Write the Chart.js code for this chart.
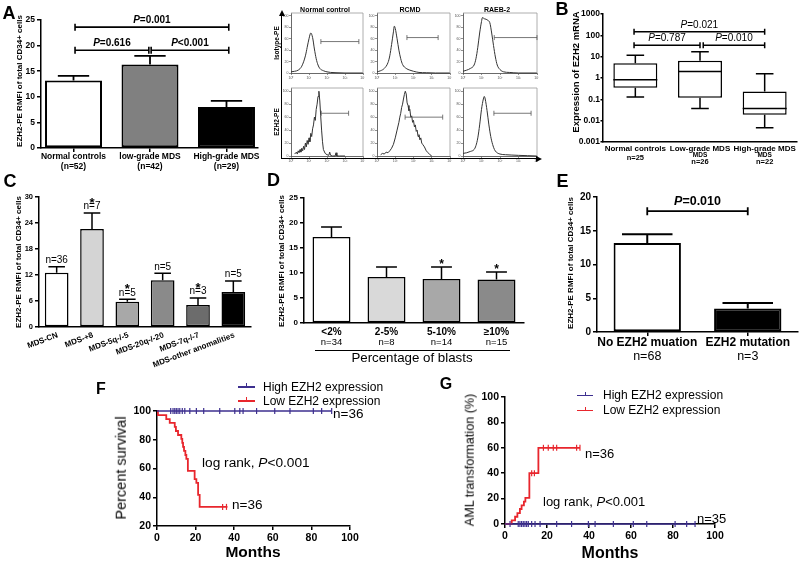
<!DOCTYPE html>
<html>
<head>
<meta charset="utf-8">
<title>EZH2 expression figure</title>
<script src="https://cdn.jsdelivr.net/npm/chart.js@4.4.1/dist/chart.umd.min.js"></script>
<style>
html,body{margin:0;padding:0;background:#fff;}
#root{position:relative;width:800px;height:564px;overflow:hidden;background:#fff;}
#root canvas{position:absolute;}
#root .t{position:absolute;white-space:nowrap;color:#000;}
#root .ln{position:absolute;background:#000;}
#root .tri{position:absolute;width:0;height:0;}
</style>
</head>
<body>
<div id="root"></div>
<script>
// ================= DATA =================
// Panel A (bar chart)
const aCategories = ["Normal controls", "low-grade MDS", "High-grade MDS"];
const aSubLabels = ["(n=52)", "(n=42)", "(n=29)"];
const aMeans = [13.2, 16.3, 8.0];
const aErrTops = [14.1, 18.0, 9.2];
const aColors = ["#ffffff", "#808080", "#000000"];
const aTicks = [0, 5, 10, 15, 20, 25];
const aBracketFrom = [0.02, 0.02, 1.015];
const aBracketTo = [2.03, 0.985, 2.03];
const aBracketY = [23.6, 19.1, 19.1];
const aBracketText = ["=0.001", "=0.616", "<0.001"];

// Panel A (flow cytometry histograms)
const flowColumns = ["Normal control", "RCMD", "RAEB-2"];
const flowRows = ["Isotype-PE", "EZH2-PE"];
const flowXTicks = [0, 1, 2, 3, 4];
const flowXTickLabels = ["10⁰", "10¹", "10²", "10³", "10⁴"];
const flowYTicks = [0, 20, 40, 60, 80, 100];
const isoNormalX = [0,0.2,0.4,0.6,0.8,0.9,1.0,1.1,1.2,1.3,1.4,1.5,1.6,1.8,2.0,2.2,2.5,3.0,3.5,4.0];
const isoNormalY = [2,3,5,12,30,45,60,70,62,42,25,14,8,4,2,1,0.5,0,0,0];
const isoRcmdX = [0,0.2,0.4,0.6,0.7,0.8,0.9,0.95,1.0,1.1,1.2,1.3,1.4,1.6,1.8,2.0,2.3,2.7,3.2,4.0];
const isoRcmdY = [2,4,8,18,30,50,72,82,78,60,40,25,15,8,5,3,1,0.5,0,0];
const isoRaebX = [0,0.2,0.4,0.6,0.7,0.8,0.9,1.0,1.05,1.15,1.25,1.35,1.45,1.55,1.65,1.75,1.85,2.0,2.2,2.5,3.0,4.0];
const isoRaebY = [3,5,8,14,25,45,70,90,97,95,94,92,88,70,48,28,14,6,2,1,0,0];
const ezhNormalX = [0.2,0.3,0.35,0.4,0.45,0.5,0.55,0.6,0.65,0.7,0.75,0.8,0.85,0.9,0.95,1.0,1.05,1.1,1.15,1.2,1.25,1.3,1.35,1.4,1.45,1.5,1.55,1.6,1.65,1.7,1.75,1.8,1.9,2.0,2.1,2.15,2.2,2.3,2.45,2.5,2.55,2.7,3.0];
const ezhNormalY = [3,6,3,8,5,10,6,12,8,15,10,20,14,24,18,28,22,35,30,42,48,60,55,72,80,92,100,85,62,40,22,10,4,2,1,6,1,0,0,5,0,0,0];
const ezhRcmdX = [0.2,0.3,0.4,0.5,0.6,0.7,0.8,0.9,1.0,1.1,1.2,1.25,1.3,1.35,1.4,1.45,1.5,1.55,1.6,1.65,1.7,1.75,1.8,1.85,1.9,1.95,2.0,2.05,2.1,2.15,2.2,2.25,2.3,2.35,2.4,2.45,2.5,2.6,2.7,2.8,2.9,3.0];
const ezhRcmdY = [2,4,3,6,5,8,12,18,28,40,52,60,66,75,80,88,95,100,96,82,78,70,72,60,62,52,55,45,48,38,40,30,33,25,28,20,18,14,8,5,2,0];
const ezhRaebX = [0,0.2,0.4,0.6,0.7,0.8,0.9,1.0,1.1,1.15,1.2,1.3,1.4,1.5,1.6,1.7,1.8,2.0,2.3,2.6,3.0,3.5,4.0];
const ezhRaebY = [4,5,7,10,16,28,48,72,88,92,88,70,48,30,18,10,6,3,2,1.5,1,0.5,0];
const flowGateStart = [1.66, 1.64, 1.69, 1.68, 1.54, 1.67];
const flowGateEnd = [3.77, 3.35, 4.0, 3.2, 3.6, 3.68];
const flowGateLevel = [55, 62, 62, 66, 60, 66];

// Panel B (box plot, log scale)
const bCategories = ["Normal controls", "Low-grade MDS", "High-grade MDS"];
const bSecondLine = ["", "MDS", "MDS"];
const bNLabels = ["n=25", "n=26", "n=22"];
const bWhiskerLow = [0.128, 0.037, 0.0046];
const bQ1 = [0.35, 0.12, 0.019];
const bMedian = [0.83, 2.0, 0.037];
const bQ3 = [4.9, 6.5, 0.23];
const bWhiskerHigh = [11.8, 17, 1.6];
const bTicks = [0.001, 0.01, 0.1, 1, 10, 100, 1000];
const bBracketFrom = [-0.02, -0.02, 1.05];
const bBracketTo = [2.0, 1.0, 2.0];
const bBracketY = [148, 34.6, 34.6];
const bBracketText = ["=0.021", "=0.787", "=0.010"];

// Panel C
const cCategories = ["MDS-CN", "MDS-+8", "MDS-5q-/-5", "MDS-20q-/-20", "MDS-7q-/-7", "MDS-other anomalities"];
const cMeans = [12.5, 22.6, 5.8, 10.8, 5.1, 8.1];
const cErrTops = [13.9, 26.3, 6.4, 12.4, 6.7, 10.6];
const cNLabels = ["n=36", "n=7", "n=5", "n=5", "n=3", "n=5"];
const cStars = [false, true, true, false, true, false];
const cColors = ["#ffffff", "#d4d4d4", "#a8a8a8", "#8a8a8a", "#6c6c6c", "#000000"];
const cTicks = [0, 6, 12, 18, 24, 30];

// Panel D
const dCategories = ["<2%", "2-5%", "5-10%", "≥10%"];
const dNLabels = ["n=34", "n=8", "n=14", "n=15"];
const dMeans = [17.2, 9.2, 8.8, 8.7];
const dErrTops = [19.2, 11.2, 11.2, 10.2];
const dStars = [false, false, true, true];
const dColors = ["#ffffff", "#d9d9d9", "#a8a8a8", "#8a8a8a"];
const dTicks = [0, 5, 10, 15, 20, 25];

// Panel E
const eCategories = ["No EZH2 muation", "EZH2 mutation"];
const eNLabels = ["n=68", "n=3"];
const eMeans = [13.2, 3.5];
const eErrTops = [14.5, 4.3];
const eColors = ["#ffffff", "#000000"];
const eTicks = [0, 5, 10, 15, 20];
const eBracketY = 17.9;
const eBracketText = "=0.010";

// Panel F (survival)
const fHighMonths = [0, 90.5];
const fHighSurvival = [100, 100];
const fHighCensorMonths = [7.1, 8.3, 9.2, 10, 10.9, 11.8, 13.1, 14.4, 17, 20.4, 24.2, 32.5, 40.3, 42.9, 44.6, 51.6, 61, 68.9, 81, 85.3, 90.5];
const fHighCensorSurvival = [100,100,100,100,100,100,100,100,100,100,100,100,100,100,100,100,100,100,100,100,100];
const fLowMonths = [0, 0.5, 4.8, 6.6, 9.2, 9.8, 10.9, 12.6, 13.1, 13.5, 14, 14.7, 15.2, 16, 19.5, 20.4, 21.3, 22.1, 36.5];
const fLowSurvival = [100, 97.2, 94.4, 91.7, 88.9, 86.1, 83.3, 80.6, 77.8, 75, 72.2, 69.4, 66.7, 58.3, 52.6, 50, 41.7, 33.3, 33.3];
const fLowCensorMonths = [34, 36];
const fLowCensorSurvival = [33.3, 33.3];
const fXTicks = [0, 20, 40, 60, 80, 100];
const fYTicks = [20, 40, 60, 80, 100];

// Panel G (AML transformation)
const gHighMonths = [0, 90.5];
const gHighPercent = [0, 0];
const gHighCensorMonths = [2.4, 6.3, 7.1, 7.9, 8.7, 9.5, 10.3, 11.1, 12.7, 14.3, 16.7, 24.6, 31.7, 39.7, 42.9, 51.6, 61.1, 67.5, 81, 86.5, 90.5];
const gHighCensorPercent = [0,0,0,0,0,0,0,0,0,0,0,0,0,0,0,0,0,0,0,0,0];
const gLowMonths = [0, 3.2, 4.8, 5.9, 7.1, 7.9, 9, 9.7, 11.6, 15.9, 35.7];
const gLowPercent = [0, 2.9, 5.7, 8.6, 11.8, 14.7, 17.6, 20.6, 40, 60, 60];
const gLowCensorMonths = [12.7, 14, 18.3, 20.6, 23, 24.6, 34.1, 35.7];
const gLowCensorPercent = [40, 40, 60, 60, 60, 60, 60, 60];
const gXTicks = [0, 20, 40, 60, 80, 100];
const gYTicks = [0, 20, 40, 60, 80, 100];

// ================= HELPERS =================
const FONT = "'Liberation Sans', Arial, Helvetica, sans-serif";
const BLUE = '#3d2f8f', RED = '#e8262d';
Chart.defaults.font.family = FONT;
Chart.defaults.color = '#000';
let uid = 0;
const root = document.getElementById('root');
const f = (size, weight = 'bold', style = 'normal') => ({ family: FONT, size, weight, style });
const cf = (size, weight = 'bold', style = 'normal') => `${style} ${weight} ${size}px ${FONT}`;

function mkCanvas(l, t, w, h) {
  const c = document.createElement('canvas');
  c.width = w; c.height = h;
  c.style.left = l + 'px'; c.style.top = t + 'px';
  c.style.width = w + 'px'; c.style.height = h + 'px';
  root.appendChild(c);
  return c;
}
function html(x, y, content, size, weight, style, opt) {
  opt = opt || {};
  const d = document.createElement('div');
  d.className = 't';
  d.innerHTML = content;
  d.style.font = `${style || 'normal'} ${weight || 'normal'} ${size}px/1 ${FONT}`;
  d.style.left = x + 'px'; d.style.top = y + 'px';
  let tr = opt.align === 'left' ? 'translate(0,-50%)' : 'translate(-50%,-50%)';
  if (opt.rot) tr += ' rotate(' + opt.rot + 'deg)';
  d.style.transform = tr;
  root.appendChild(d);
}
function line(x, y, w, h, color) {
  const d = document.createElement('div');
  d.className = 'ln';
  d.style.left = x + 'px'; d.style.top = y + 'px';
  d.style.width = w + 'px'; d.style.height = h + 'px';
  if (color) d.style.background = color;
  root.appendChild(d);
}
function tri(x, y, dir) {
  const d = document.createElement('div');
  d.className = 'tri';
  if (dir === 'up') {
    d.style.borderLeft = '3px solid transparent'; d.style.borderRight = '3px solid transparent';
    d.style.borderBottom = '6px solid #000';
    d.style.left = (x - 3) + 'px'; d.style.top = y + 'px';
  } else {
    d.style.borderTop = '3px solid transparent'; d.style.borderBottom = '3px solid transparent';
    d.style.borderLeft = '6px solid #000';
    d.style.left = x + 'px'; d.style.top = (y - 3) + 'px';
  }
  root.appendChild(d);
}
function txt(ctx, s, x, y, font, align) {
  ctx.font = font; ctx.textAlign = align || 'center'; ctx.textBaseline = 'middle';
  ctx.fillStyle = '#000'; ctx.fillText(s, x, y);
}
function rich(ctx, x, y, segs) {
  ctx.textBaseline = 'middle'; ctx.textAlign = 'left'; ctx.fillStyle = '#000';
  let w = 0;
  segs.forEach(s => { ctx.font = s[1]; w += ctx.measureText(s[0]).width; });
  let cx = x - w / 2;
  segs.forEach(s => { ctx.font = s[1]; ctx.fillText(s[0], cx, y); cx += ctx.measureText(s[0]).width; });
}
function bracket(ctx, x1, x2, y, cap, lw) {
  ctx.strokeStyle = '#000'; ctx.lineWidth = lw || 1.5;
  ctx.beginPath();
  ctx.moveTo(x1, y); ctx.lineTo(x2, y);
  ctx.moveTo(x1, y - cap); ctx.lineTo(x1, y + cap);
  ctx.moveTo(x2, y - cap); ctx.lineTo(x2, y + cap);
  ctx.stroke();
}
function errBars(ch, ctx, errs, capRatio, lw) {
  const meta = ch.getDatasetMeta(0), ys = ch.scales.y;
  ctx.strokeStyle = '#000'; ctx.lineWidth = lw;
  meta.data.forEach((b, i) => {
    const t = ys.getPixelForValue(errs[i]);
    const hw = b.width * capRatio / 2;
    ctx.beginPath();
    ctx.moveTo(b.x, b.y); ctx.lineTo(b.x, t);
    ctx.moveTo(b.x - hw, t); ctx.lineTo(b.x + hw, t);
    ctx.stroke();
  });
}
function star(ctx, x, centerY, size) {
  txt(ctx, '*', x, centerY + 0.21 * size, cf(size));
}

function barChart(o) {
  const w = o.right - o.left, h = o.bottom - o.top;
  const cv = mkCanvas(o.left, o.top, w, h);
  const lw = o.lw || 1.5;
  return new Chart(cv, {
    type: 'bar',
    data: { labels: o.labels, datasets: [{
      data: o.values, backgroundColor: o.colors, borderColor: '#000', borderWidth: o.bw || 1.5,
      borderSkipped: false, barPercentage: o.barPct, categoryPercentage: 1 }] },
    options: {
      animation: false, responsive: false, events: [],
      layout: { padding: { left: 0, top: o.aTop - o.top, right: o.right - o.aRight, bottom: 0 } },
      plugins: { legend: { display: false }, tooltip: { enabled: false } },
      scales: {
        x: {
          type: 'category', offset: true,
          border: { display: true, color: '#000', width: lw },
          grid: { display: true, drawOnChartArea: false, drawTicks: !!o.xTickMarks, tickLength: 4, color: '#000', lineWidth: lw, offset: false },
          ticks: { display: false },
          afterFit: s => {
            s.height = o.bottom - o.aBottom; s.paddingLeft = 0; s.paddingRight = 0;
            if (o.xRange) { s._startValue = o.xRange[0]; s._valueRange = o.xRange[1] - o.xRange[0]; }
          }
        },
        y: {
          type: o.yType || 'linear', min: o.yMin, max: o.yMax,
          border: { display: true, color: '#000', width: lw },
          grid: { display: true, drawOnChartArea: false, drawTicks: true, tickLength: o.ytl || 4, color: '#000', lineWidth: lw },
          ticks: { font: o.tickFont, color: '#000', padding: (o.ypad !== undefined ? o.ypad : 2), autoSkip: false, callback: v => String(v) },
          afterBuildTicks: s => { s.ticks = o.yTicks.map(v => ({ value: v })); },
          afterFit: s => { s.width = o.aLeft - o.left; s.paddingTop = 0; s.paddingBottom = 0; }
        }
      }
    },
    plugins: [{ id: 'extras' + (uid++), afterDatasetsDraw: ch => { const c = ch.ctx; c.save(); o.draw(ch, c); c.restore(); } }]
  });
}

function kmChart(o) {
  const cv = mkCanvas(o.left, o.top, o.right - o.left, o.bottom - o.top);
  const pts = (xs, ys) => xs.map((x, i) => ({ x: x, y: ys[i] }));
  const axis = (min, max, ticks) => ({
    type: 'linear', min: min, max: max,
    border: { display: true, color: '#000', width: 1.5 },
    grid: { display: true, drawOnChartArea: false, drawTicks: true, tickLength: 4, color: '#000', lineWidth: 1.5 },
    ticks: { font: f(o.tickSize), color: '#000', padding: 2, autoSkip: false, maxRotation: 0, callback: v => String(v) },
    afterBuildTicks: s => { s.ticks = ticks.map(v => ({ value: v })); }
  });
  const x = axis(0, 100, o.xTicks);
  x.afterFit = s => { s.height = o.bottom - o.aBottom; s.paddingLeft = 0; s.paddingRight = 0; };
  const y = axis(o.yMin, o.yMax, o.yTicks);
  y.afterFit = s => { s.width = o.aLeft - o.left; s.paddingTop = 0; s.paddingBottom = 0; };
  return new Chart(cv, {
    type: 'line',
    data: { datasets: [
      { data: pts(o.highX, o.highY), borderColor: BLUE, borderWidth: 1.5, pointRadius: 0, stepped: true, clip: false },
      { data: pts(o.lowX, o.lowY), borderColor: RED, borderWidth: 1.8, pointRadius: 0, stepped: true, clip: false },
      { data: pts(o.highCX, o.highCY), showLine: false, pointStyle: 'line', rotation: 90, pointRadius: 3, pointBorderColor: BLUE, pointBorderWidth: 1.2, clip: false },
      { data: pts(o.lowCX, o.lowCY), showLine: false, pointStyle: 'line', rotation: 90, pointRadius: 3, pointBorderColor: RED, pointBorderWidth: 1.2, clip: false }
    ] },
    options: {
      animation: false, responsive: false, events: [],
      layout: { padding: { left: 0, top: o.aTop - o.top, right: o.right - o.aRight, bottom: 0 } },
      plugins: { legend: { display: false }, tooltip: { enabled: false } },
      scales: { x: x, y: y }
    }
  });
}

function flowChart(box, xs, ys, gi, smooth) {
  const L = box[0] - 9, T = box[1] - 2, R = box[2] + 2, B = box[3] + 7;
  const cv = mkCanvas(L, T, R - L, B - T);
  return new Chart(cv, {
    type: 'line',
    data: { datasets: [{ data: xs.map((x, i) => ({ x: x, y: ys[i] })), borderColor: '#333', borderWidth: 1,
      pointRadius: 0, tension: smooth ? 0.4 : 0, cubicInterpolationMode: smooth ? 'monotone' : 'default', clip: false }] },
    options: {
      animation: false, responsive: false, events: [],
      layout: { padding: { left: 0, top: 2, right: 2, bottom: 0 } },
      plugins: { legend: { display: false }, tooltip: { enabled: false } },
      scales: {
        x: { type: 'linear', min: 0, max: 4,
          border: { display: true, color: '#444', width: 0.8 },
          grid: { display: true, drawOnChartArea: false, tickLength: 2, color: '#444', lineWidth: 0.6 },
          ticks: { font: f(3.5, 'normal'), color: '#555', padding: 0.5, autoSkip: false, maxRotation: 0,
            callback: v => flowXTickLabels[flowXTicks.indexOf(v)] || '' },
          afterBuildTicks: s => { s.ticks = flowXTicks.map(v => ({ value: v })); },
          afterFit: s => { s.height = 7; s.paddingLeft = 0; s.paddingRight = 0; } },
        y: { type: 'linear', min: 0, max: 105,
          border: { display: true, color: '#444', width: 0.8 },
          grid: { display: true, drawOnChartArea: false, tickLength: 2, color: '#444', lineWidth: 0.6 },
          ticks: { font: f(3.5, 'normal'), color: '#555', padding: 0.5, autoSkip: false, callback: v => String(v) },
          afterBuildTicks: s => { s.ticks = flowYTicks.map(v => ({ value: v })); },
          afterFit: s => { s.width = 9; s.paddingTop = 0; s.paddingBottom = 0; } }
      }
    },
    plugins: [{ id: 'flow' + (uid++), afterDatasetsDraw: ch => {
      const c = ch.ctx, a = ch.chartArea, xs2 = ch.scales.x, ys2 = ch.scales.y;
      c.save();
      c.strokeStyle = '#999'; c.lineWidth = 0.8;
      c.beginPath(); c.moveTo(a.left, a.top); c.lineTo(a.right, a.top); c.lineTo(a.right, a.bottom); c.stroke();
      const gx1 = xs2.getPixelForValue(flowGateStart[gi]), gx2 = xs2.getPixelForValue(flowGateEnd[gi]);
      const gy = ys2.getPixelForValue(flowGateLevel[gi]);
      c.strokeStyle = '#555'; c.lineWidth = 0.8;
      c.beginPath();
      c.moveTo(gx1, gy); c.lineTo(gx2, gy);
      c.moveTo(gx1, gy - 2.5); c.lineTo(gx1, gy + 2.5);
      c.moveTo(gx2, gy - 2.5); c.lineTo(gx2, gy + 2.5);
      c.stroke();
      c.restore();
    } }]
  });
}

// ================= PANEL A (bars) =================
barChart({
  left: 0, top: 0, right: 262, bottom: 175,
  aLeft: 41, aRight: 258, aTop: 20, aBottom: 148,
  labels: aCategories, values: aMeans, colors: aColors, bw: 2, barPct: 0.745,
  xRange: [-0.425, 2.412], xTickMarks: true,
  yMin: 0, yMax: 25, yTicks: aTicks, tickFont: f(8.5),
  draw: (ch, ctx) => {
    const xs = ch.scales.x, ys = ch.scales.y, bottom = ch.chartArea.bottom;
    errBars(ch, ctx, aErrTops, 0.55, 1.8);
    aBracketText.forEach((t, i) => {
      const x1 = xs.getPixelForValue(aBracketFrom[i]), x2 = xs.getPixelForValue(aBracketTo[i]);
      const y = ys.getPixelForValue(aBracketY[i]);
      bracket(ctx, x1, x2, y, 3.5, 1.6);
      rich(ctx, (x1 + x2) / 2, y - 6.5, [['P', cf(10, 'bold', 'italic')], [t, cf(10, 'bold')]]);
    });
    aCategories.forEach((c, i) => {
      const x = xs.getPixelForValue(i);
      txt(ctx, c, x, bottom + 9, cf(8.5));
      txt(ctx, aSubLabels[i], x, bottom + 19, cf(8.5));
    });
  }
});

// ================= PANEL A (flow) =================
const flowBoxes = [[291, 13, 363, 73], [377, 13, 450, 73], [463, 13, 537, 73],
                   [291, 88, 363, 156], [377, 88, 450, 156], [463, 88, 537, 156]];
flowChart(flowBoxes[0], isoNormalX, isoNormalY, 0, true);
flowChart(flowBoxes[1], isoRcmdX, isoRcmdY, 1, true);
flowChart(flowBoxes[2], isoRaebX, isoRaebY, 2, true);
flowChart(flowBoxes[3], ezhNormalX, ezhNormalY, 3, false);
flowChart(flowBoxes[4], ezhRcmdX, ezhRcmdY, 4, false);
flowChart(flowBoxes[5], ezhRaebX, ezhRaebY, 5, true);

// ================= PANEL B (box plot) =================
barChart({
  left: 535, top: 0, right: 800, bottom: 175,
  aLeft: 603, aRight: 797, aTop: 14, aBottom: 142,
  labels: bCategories, values: bQ1.map((q, i) => [q, bQ3[i]]), colors: ['#ffffff', '#ffffff', '#ffffff'], bw: 1.5, barPct: 0.68,
  yType: 'logarithmic', yMin: 0.001, yMax: 1000, yTicks: bTicks, tickFont: f(8.5), ytl: 2.5, ypad: 0.5,
  draw: (ch, ctx) => {
    const xs = ch.scales.x, ys = ch.scales.y, bottom = ch.chartArea.bottom;
    const meta = ch.getDatasetMeta(0);
    ctx.strokeStyle = '#000'; ctx.lineWidth = 1.5;
    meta.data.forEach((b, i) => {
      const x = b.x, hw = b.width / 2, cw = b.width * 0.2;
      const pq1 = ys.getPixelForValue(bQ1[i]), pq3 = ys.getPixelForValue(bQ3[i]);
      const pm = ys.getPixelForValue(bMedian[i]);
      const pl = ys.getPixelForValue(bWhiskerLow[i]), ph = ys.getPixelForValue(bWhiskerHigh[i]);
      ctx.beginPath();
      ctx.moveTo(x, pq3); ctx.lineTo(x, ph); ctx.moveTo(x - cw, ph); ctx.lineTo(x + cw, ph);
      ctx.moveTo(x, pq1); ctx.lineTo(x, pl); ctx.moveTo(x - cw, pl); ctx.lineTo(x + cw, pl);
      ctx.moveTo(x - hw, pm); ctx.lineTo(x + hw, pm);
      ctx.stroke();
    });
    bBracketText.forEach((t, i) => {
      const x1 = xs.getPixelForValue(bBracketFrom[i]), x2 = xs.getPixelForValue(bBracketTo[i]);
      const y = ys.getPixelForValue(bBracketY[i]);
      bracket(ctx, x1, x2, y, 3, 1.5);
      rich(ctx, (x1 + x2) / 2, y - 6.5, [['P', cf(10, 'normal', 'italic')], [t, cf(10, 'normal')]]);
    });
    bCategories.forEach((c, i) => {
      const x = xs.getPixelForValue(i);
      txt(ctx, c, x, bottom + 7, cf(8));
      if (bSecondLine[i]) {
        txt(ctx, bSecondLine[i], x, bottom + 13, cf(6.5));
        txt(ctx, bNLabels[i], x, bottom + 20, cf(7.5));
      } else {
        txt(ctx, bNLabels[i], x, bottom + 16, cf(7.5));
      }
    });
  }
});

// ================= PANEL C =================
barChart({
  left: 0, top: 175, right: 262, bottom: 375,
  aLeft: 39, aRight: 251, aTop: 197, aBottom: 327,
  labels: cCategories, values: cMeans, colors: cColors, bw: 1.5, barPct: 0.67,
  yMin: 0, yMax: 30, yTicks: cTicks, tickFont: f(7.5),
  draw: (ch, ctx) => {
    const xs = ch.scales.x, ys = ch.scales.y, bottom = ch.chartArea.bottom;
    errBars(ch, ctx, cErrTops, 0.7, 1.5);
    cCategories.forEach((c, i) => {
      const x = xs.getPixelForValue(i), ye = ys.getPixelForValue(cErrTops[i]);
      txt(ctx, cNLabels[i], x, ye - 6.5, cf(10, 'normal'));
      if (cStars[i]) star(ctx, x, ye - 12.5, 13);
      ctx.save();
      ctx.translate(x + 1, bottom + 8);
      ctx.rotate(-20.5 * Math.PI / 180);
      txt(ctx, c, 0, 0, cf(8), 'right');
      ctx.restore();
    });
  }
});

// ================= PANEL D =================
barChart({
  left: 265, top: 175, right: 530, bottom: 375,
  aLeft: 304, aRight: 524, aTop: 198, aBottom: 323,
  labels: dCategories, values: dMeans, colors: dColors, bw: 1.5, barPct: 0.69,
  yMin: 0, yMax: 25, yTicks: dTicks, tickFont: f(8),
  draw: (ch, ctx) => {
    const xs = ch.scales.x, ys = ch.scales.y, bottom = ch.chartArea.bottom;
    errBars(ch, ctx, dErrTops, 0.55, 1.5);
    dCategories.forEach((c, i) => {
      const x = xs.getPixelForValue(i), ye = ys.getPixelForValue(dErrTops[i]);
      if (dStars[i]) star(ctx, x, ye - 5, 12);
      txt(ctx, c, x, bottom + 9, cf(10));
      txt(ctx, dNLabels[i], x, bottom + 19, cf(9.5, 'normal'));
    });
  }
});

// ================= PANEL E =================
barChart({
  left: 530, top: 175, right: 800, bottom: 375,
  aLeft: 597, aRight: 798, aTop: 197, aBottom: 332,
  labels: eCategories, values: eMeans, colors: eColors, bw: 2, barPct: 0.67, xTickMarks: true,
  yMin: 0, yMax: 20, yTicks: eTicks, tickFont: f(10),
  draw: (ch, ctx) => {
    const xs = ch.scales.x, ys = ch.scales.y, bottom = ch.chartArea.bottom;
    errBars(ch, ctx, eErrTops, 0.75, 2);
    const x1 = xs.getPixelForValue(0), x2 = xs.getPixelForValue(1), y = ys.getPixelForValue(eBracketY);
    bracket(ctx, x1, x2, y, 4, 1.8);
    rich(ctx, (x1 + x2) / 2, y - 10, [['P', cf(12.5, 'bold', 'italic')], [eBracketText, cf(12.5, 'bold')]]);
    eCategories.forEach((c, i) => {
      const x = xs.getPixelForValue(i);
      txt(ctx, c, x, bottom + 11, cf(12));
      txt(ctx, eNLabels[i], x, bottom + 25, cf(12.5, 'normal'));
    });
  }
});

// ================= PANEL F =================
kmChart({
  left: 100, top: 395, right: 370, bottom: 564,
  aLeft: 157, aRight: 350, aTop: 411, aBottom: 526,
  yMin: 20, yMax: 100, xTicks: fXTicks, yTicks: fYTicks, tickSize: 10.5,
  highX: fHighMonths, highY: fHighSurvival, lowX: fLowMonths, lowY: fLowSurvival,
  highCX: fHighCensorMonths, highCY: fHighCensorSurvival, lowCX: fLowCensorMonths, lowCY: fLowCensorSurvival
});

// ================= PANEL G =================
kmChart({
  left: 440, top: 385, right: 740, bottom: 564,
  aLeft: 505, aRight: 715, aTop: 397, aBottom: 524,
  yMin: 0, yMax: 100, xTicks: gXTicks, yTicks: gYTicks, tickSize: 10.5,
  highX: gHighMonths, highY: gHighPercent, lowX: gLowMonths, lowY: gLowPercent,
  highCX: gHighCensorMonths, highCY: gHighCensorPercent, lowCX: gLowCensorMonths, lowCY: gLowCensorPercent
});

// ================= HTML TEXT & DECORATION =================
// panel letters
html(9, 12.5, 'A', 18, 'bold');
html(562, 8.5, 'B', 18, 'bold');
html(10, 180.5, 'C', 18, 'bold');
html(273.5, 180, 'D', 18, 'bold');
html(562.5, 181, 'E', 18, 'bold');
html(101, 388.5, 'F', 16, 'bold');
html(446, 383.5, 'G', 16, 'bold');

// y-axis titles
const rmfiTitle = 'EZH2-PE RMFI of total CD34+ cells';
html(19.5, 81, rmfiTitle, 8, 'bold', 'normal', { rot: -90 });
html(19, 262, rmfiTitle, 8, 'bold', 'normal', { rot: -90 });
html(282, 261, rmfiTitle, 8, 'bold', 'normal', { rot: -90 });
html(571, 263, rmfiTitle, 8, 'bold', 'normal', { rot: -90 });
html(575.5, 72, 'Expression of EZH2 mRNA', 9.5, 'bold', 'normal', { rot: -90 });
html(121, 468, 'Percent survival', 14.5, 'normal', 'normal', { rot: -90 });
html(470, 460, 'AML transformation (%)', 12.6, 'normal', 'normal', { rot: -90 });

// D axis group label
line(315, 349.5, 195, 1.2);
html(412, 357.5, 'Percentage of blasts', 13.3, 'normal');

// F / G axis titles and notes
html(253, 552, 'Months', 15.5, 'bold');
html(610, 553, 'Months', 16, 'bold');
line(238, 386, 17, 1.6, BLUE); line(246.2, 383, 1.2, 4, BLUE);
html(263, 387, 'High EZH2 expression', 12, 'normal', 'normal', { align: 'left' });
line(238, 400, 17, 1.8, RED); line(246.2, 397, 1.2, 4, RED);
html(263, 401, 'Low EZH2 expression', 12, 'normal', 'normal', { align: 'left' });
html(333, 413.5, 'n=36', 13.5, 'normal', 'normal', { align: 'left' });
html(232, 505, 'n=36', 13.5, 'normal', 'normal', { align: 'left' });
html(202, 463, 'log rank, <i>P</i>&lt;0.001', 13.7, 'normal', 'normal', { align: 'left' });

line(577, 394.5, 16, 1.6, BLUE); line(584.5, 391.5, 1.2, 4, BLUE);
html(603, 395, 'High EZH2 expression', 12, 'normal', 'normal', { align: 'left' });
line(577, 409.5, 16, 1.8, RED); line(584.5, 406.5, 1.2, 4, RED);
html(603, 410, 'Low EZH2 expression', 12, 'normal', 'normal', { align: 'left' });
html(585, 453, 'n=36', 13, 'normal', 'normal', { align: 'left' });
html(543, 501, 'log rank, <i>P</i>&lt;0.001', 13, 'normal', 'normal', { align: 'left' });
html(697, 518, 'n=35', 13, 'normal', 'normal', { align: 'left' });

// flow panel titles, row labels, frame
html(325, 9, flowColumns[0], 7, 'bold');
html(410, 9, flowColumns[1], 7, 'bold');
html(497, 9, flowColumns[2], 7, 'bold');
html(277, 43, flowRows[0], 6.5, 'bold', 'normal', { rot: -90 });
html(277, 122, flowRows[1], 6.5, 'bold', 'normal', { rot: -90 });
line(281, 14, 1.3, 145);
tri(281.6, 10, 'up');
line(281, 158, 255, 1.3);
tri(536, 158.6, 'right');
</script>
</body>
</html>
